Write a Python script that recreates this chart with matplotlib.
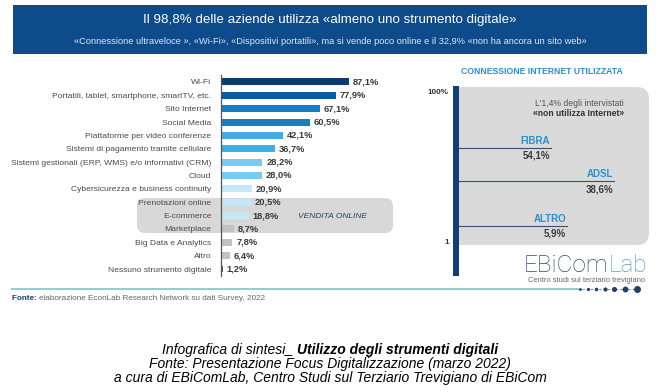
import matplotlib.pyplot as plt
from matplotlib.patches import FancyBboxPatch, Rectangle

plt.rcParams['font.family'] = ['Liberation Sans', 'DejaVu Sans']

# data
categories = ['Wi-Fi', 'Portatili, tablet, smartphone, smartTV, etc.', 'Sito Internet',
              'Social Media', 'Piattaforme per video conferenze',
              'Sistemi di pagamento tramite cellulare',
              'Sistemi gestionali (ERP, WMS) e/o informativi (CRM)', 'Cloud',
              'Cybersicurezza e business continuity', 'Prenotazioni online',
              'E-commerce', 'Marketplace', 'Big Data e Analytics', 'Altro',
              'Nessuno strumento digitale']
values = [87.1, 77.9, 67.1, 60.5, 42.1, 36.7, 28.2, 28.0, 20.9, 20.5, 18.8, 8.7, 7.8, 6.4, 1.2]
bar_colors = ['#0d3b6e', '#0c5b9e', '#1a7cc1', '#1a7cc1', '#41ade3', '#41ade3',
              '#79cbf0', '#79cbf0', '#c4e8f8', '#c4e8f8', '#c4e8f8',
              '#c2c2c2', '#c2c2c2', '#c2c2c2', '#555555']

conn_types = ['FIBRA', 'ADSL', 'ALTRO']
conn_values = [54.1, 38.6, 5.9]
conn_line_end = [551, 614, 567]   # pixel x where each underline ends
conn_line_y = [148, 181, 226]

W, H = 660, 392
fig = plt.figure(figsize=(W / 100, H / 100), dpi=100)
T = fig.dpi_scale_trans
renderer = fig.canvas.get_renderer()


def P(x, y):
    return x / 100, (H - y) / 100


def txt(x, y, s, **kw):
    return fig.text(*P(x, y), s, transform=T, **kw)


def pair(x, y, a, b, kwa, kwb, align='left'):
    # two text pieces side by side, left-aligned at x or centred on x
    ta = txt(x, y, a, ha='left', va='center', **kwa)
    tb = txt(x, y, b, ha='left', va='center', **kwb)
    wa = ta.get_window_extent(renderer).width
    wb = tb.get_window_extent(renderer).width
    x0 = x - (wa + wb) / 2 if align == 'center' else x
    ta.set_position(P(x0, y))
    tb.set_position(P(x0 + wa, y))


# header band
fig.add_artist(Rectangle(P(13, 54), 634 / 100, 49 / 100, transform=T,
                         facecolor='#0d4b8b', edgecolor='none', zorder=0))
txt(330, 20, 'Il 98,8% delle aziende utilizza «almeno uno strumento digitale»',
    color='white', fontsize=9.6, ha='center', va='center')
txt(330, 41, '«Connessione ultraveloce », «Wi-Fi», «Dispositivi portatili», ma si vende poco online '
    'e il 32,9% «non ha ancora un sito web»',
    color='#dce8f5', fontsize=6.7, ha='center', va='center')

# vendita online box
fig.add_artist(FancyBboxPatch(P(137, 233), 256 / 100, 35 / 100, transform=T,
                              boxstyle='round,pad=0,rounding_size=0.08',
                              facecolor='#d8d8d8', edgecolor='none', zorder=0))
txt(333, 216, 'VENDITA ONLINE', color='#2c3e5c', fontsize=6, style='italic',
    ha='center', va='center')

# bar chart
step = 13.36
ax = fig.add_axes([221 / W, 1 - (269 + step / 2) / H, 147 / W, 15 * step / H])
ax.set_zorder(2)
ax.patch.set_visible(False)
ypos = list(range(len(categories)))
ax.barh(ypos, values, height=0.52, color=bar_colors)
ax.set_xlim(0, 100)
ax.set_ylim(len(categories) - 0.5, -0.5)
for s in ['top', 'right', 'bottom']:
    ax.spines[s].set_visible(False)
ax.spines['left'].set_color('#555555')
ax.spines['left'].set_linewidth(0.9)
ax.set_xticks([])
ax.set_yticks(ypos)
ax.set_yticklabels(categories, fontsize=6.1, color='#4a4a4a')
ax.tick_params(axis='y', length=0, pad=7)
for y, v in zip(ypos, values):
    ax.text(v + 2.5, y, f'{v:.1f}%'.replace('.', ','), va='center', ha='left',
            fontsize=6.7, fontweight='bold', color='#3a3a3a')

# right panel
txt(542, 72, 'CONNESSIONE INTERNET UTILIZZATA', color='#2b8fd0', fontsize=6.2,
    fontweight='bold', ha='center', va='center')
fig.add_artist(FancyBboxPatch(P(459, 245), 190 / 100, 158 / 100, transform=T,
                              boxstyle='round,pad=0,rounding_size=0.12',
                              facecolor='#dadada', edgecolor='none', zorder=0))
fig.add_artist(Rectangle(P(459, 245), 20 / 100, 158 / 100, transform=T,
                         facecolor='#dadada', edgecolor='none', zorder=0))
fig.add_artist(Rectangle(P(453, 276), 6 / 100, 190 / 100, transform=T,
                         facecolor='#0d3f78', edgecolor='none', zorder=3))
txt(448, 92, '100%', fontsize=5.8, fontweight='bold', color='#333333', ha='right', va='center')
txt(449, 242, '1', fontsize=5.8, fontweight='bold', color='#333333', ha='right', va='center')
txt(624, 103, "L'1,4% degli intervistati", fontsize=6.2, color='#555555', ha='right', va='center')
txt(624, 113, '«non utilizza Internet»', fontsize=6.2, fontweight='bold', color='#333333',
    ha='right', va='center')
for name, v, xe, yl in zip(conn_types, conn_values, conn_line_end, conn_line_y):
    fig.add_artist(plt.Line2D([459 / 100, xe / 100], [(H - yl) / 100] * 2, transform=T,
                              color='#3b4f6e', linewidth=0.8, zorder=2))
    txt(xe - 1, yl - 7, name, fontsize=7, fontweight='bold', color='#2b8fd0',
        ha='right', va='center')
    txt(xe - 1, yl + 8, f'{v:.1f}%'.replace('.', ','), fontsize=7, fontweight='bold',
        color='#3a3a3a', ha='right', va='center')

# logo
logo_kw = dict(fontsize=17.5, fontfamily=['Roboto', 'Liberation Sans'], fontweight='light')
pair(524, 265, 'EBiCom', 'Lab', dict(color='#2d4b73', **logo_kw), dict(color='#5b9fc4', **logo_kw))
txt(645, 281, 'Centro studi sul terziario trevigiano', fontsize=5.4, color='#666666',
    ha='right', va='center')

# teal rule with dots
fig.add_artist(plt.Line2D([12 / 100, 578 / 100], [(H - 289) / 100] * 2, transform=T,
                          color='#8ccfd2', linewidth=1.4))
dot_x = [580, 588, 596, 605, 614, 625, 637]
dot_s = [1, 1.3, 1.6, 2, 2.6, 3.2, 4]
fig.add_artist(plt.Line2D([578 / 100, 640 / 100], [(H - 289) / 100] * 2, transform=T,
                          color='#2d4b73', linewidth=0.5, linestyle=(0, (3, 3))))
for dx, ds in zip(dot_x, dot_s):
    fig.add_artist(plt.Line2D([dx / 100], [(H - 289) / 100], transform=T, marker='o',
                              markersize=ds, color='#1d3f6e', linestyle='none'))

# source
pair(12, 299, 'Fonte: ', 'elaborazione EconLab Research Network su dati Survey, 2022',
     dict(fontsize=5.9, fontweight='bold', color='#1f3f6e'),
     dict(fontsize=5.9, color='#666666'))

# caption
cap_kw = dict(fontsize=10, style='italic', color='black')
pair(330, 350, 'Infografica di sintesi_ ', 'Utilizzo degli strumenti digitali',
     cap_kw, dict(fontweight='bold', **cap_kw), align='center')
txt(330, 364, 'Fonte: Presentazione Focus Digitalizzazione (marzo 2022)',
    ha='center', va='center', **cap_kw)
txt(330, 378, 'a cura di EBiComLab, Centro Studi sul Terziario Trevigiano di EBiCom',
    ha='center', va='center', **cap_kw)

fig.savefig('out.png', dpi=100)
